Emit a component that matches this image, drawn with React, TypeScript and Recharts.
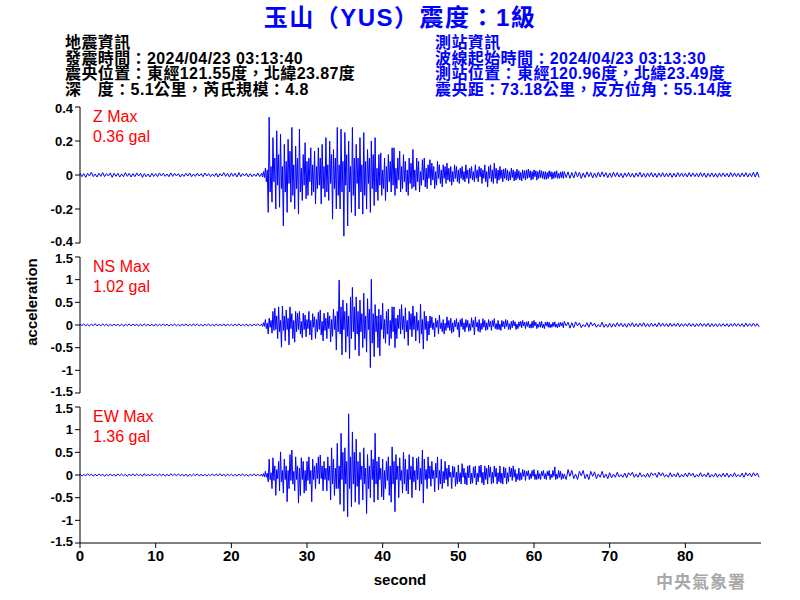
import React from 'react'
import { LineChart, Line, XAxis, YAxis } from 'recharts'

// 取樣：震前與尾段每 0.25 秒，主震段（24–64 秒）每 0.125 秒
const PRE_STEP = 0.25
const ACTIVE_START = 24
const ACTIVE_STEP = 0.125
const TAIL_START = 64
const TAIL_STEP = 0.25

const X_TICKS = [0, 10, 20, 30, 40, 50, 60, 70, 80]
const Z_TICKS = [-0.4, -0.2, 0, 0.2, 0.4]
const H_TICKS = [-1.5, -1, -0.5, 0, 0.5, 1, 1.5]

const TITLE = '玉山（YUS）震度：1級'
const QUAKE_INFO = [
  '地震資訊',
  '發震時間：2024/04/23 03:13:40',
  '震央位置：東經121.55度，北緯23.87度',
  '深　度：5.1公里，芮氏規模：4.8'
]
const STATION_INFO = [
  '測站資訊',
  '波線起始時間：2024/04/23 03:13:30',
  '測站位置：東經120.96度，北緯23.49度',
  '震央距：73.18公里，反方位角：55.14度'
]

// ---- Z ----
const Z_PRE = [
  0.012,-0.01,0.008,-0.014,0.01,-0.006,0.016,-0.01,0.006,-0.012,0.01,-0.008,0.014,-0.01,0.008,-0.006,0.012,-0.014,0.01,-0.008,
  0.01,-0.012,0.006,-0.01,0.014,-0.008,0.01,-0.012,0.008,-0.01,0.012,-0.006,0.01,-0.014,0.008,-0.01,0.006,-0.012,0.01,-0.008,
  0.008,-0.01,0.012,-0.006,0.01,-0.008,0.006,-0.01,0.012,-0.008,0.01,-0.006,0.008,-0.012,0.006,-0.008,0.01,-0.006,0.012,-0.01,
  0.006,-0.008,0.01,-0.006,0.008,-0.01,0.012,-0.006,0.008,-0.01,0.006,-0.008,0.01,-0.012,0.008,-0.006,0.014,-0.008,0.01,-0.012,
  0.012,-0.008,0.01,-0.012,0.014,-0.01,0.008,-0.006,0.01,-0.012,0.008,-0.01,0.006,-0.008,0.012,-0.01
]
const Z_ACTIVE = [
  0.01,-0.012,0.02,-0.015,0.04,-0.04,0.03,-0.22,0.34,-0.1,0.05,-0.16,0.22,-0.04,0.1,-0.2,0.26,-0.06,0.12,-0.19,
  0.24,-0.08,0.05,-0.3,0.18,-0.1,0.08,-0.22,0.21,-0.05,0.14,-0.16,0.28,-0.12,0.06,-0.2,0.17,-0.08,0.1,-0.23,
  0.27,-0.1,0.04,-0.15,0.12,-0.06,0.19,-0.14,0.08,-0.12,0.1,-0.04,0.16,-0.12,0.06,-0.1,0.14,-0.17,0.05,-0.08,
  0.16,-0.06,0.1,-0.17,0.18,-0.08,0.05,-0.13,0.22,-0.1,0.06,-0.15,0.2,-0.05,0.12,-0.26,0.15,-0.08,0.1,-0.2,
  0.28,-0.12,0.06,-0.2,0.27,-0.1,0.08,-0.36,0.25,-0.06,0.12,-0.3,0.2,-0.1,0.05,-0.22,0.28,-0.12,0.1,-0.24,
  0.18,-0.05,0.1,-0.2,0.22,-0.1,0.06,-0.23,0.25,-0.12,0.08,-0.2,0.15,-0.05,0.1,-0.22,0.2,-0.08,0.12,-0.18,
  0.22,-0.1,0.04,-0.15,0.12,-0.06,0.13,-0.12,0.03,-0.08,0.1,-0.15,0.05,-0.1,0.12,-0.04,0.08,-0.1,0.16,-0.06,
  0.16,-0.12,0.04,-0.08,0.1,-0.03,0.14,-0.1,0.05,-0.08,0.12,-0.04,0.08,-0.1,0.03,-0.12,0.1,-0.05,0.07,-0.08,
  0.15,-0.07,0.03,-0.09,0.1,-0.04,0.08,-0.1,0.02,-0.06,0.09,-0.03,0.1,-0.07,0.04,-0.08,0.06,-0.02,0.09,-0.06,
  0.07,-0.03,0.05,-0.08,0.02,-0.06,0.08,-0.02,0.06,-0.05,0.03,-0.07,0.06,-0.02,0.05,-0.05,0.07,-0.03,0.04,-0.04,
  0.05,-0.06,0.02,-0.04,0.06,-0.02,0.05,-0.04,0.03,-0.05,0.04,-0.02,0.05,-0.03,0.02,-0.04,0.06,-0.02,0.03,-0.05,
  0.04,-0.02,0.05,-0.03,0.02,-0.04,0.06,-0.02,0.03,-0.04,0.05,-0.01,0.04,-0.05,0.03,-0.02,0.06,-0.04,0.02,-0.07,
  0.05,-0.02,0.06,-0.04,0.03,-0.05,0.07,-0.02,0.04,-0.05,0.03,-0.03,0.05,-0.02,0.03,-0.04,0.035,-0.02,0.04,-0.03,
  0.03,-0.035,0.02,-0.03,0.04,-0.015,0.03,-0.035,0.02,-0.03,0.035,-0.02,0.025,-0.03,0.015,-0.035,0.03,-0.02,0.025,-0.03,
  0.03,-0.02,0.035,-0.015,0.025,-0.03,0.02,-0.025,0.03,-0.01,0.025,-0.03,0.02,-0.02,0.03,-0.015,0.025,-0.02,0.02,-0.025,
  0.02,-0.025,0.015,-0.02,0.025,-0.01,0.02,-0.025,0.015,-0.02,0.02,-0.015,0.025,-0.02,0.01,-0.02,0.018,-0.015,0.02,-0.02
]
const Z_TAIL = [
  0.02,-0.015,0.018,-0.02,
  0.015,-0.018,0.02,-0.012,0.016,-0.02,0.012,-0.015,0.018,-0.01,0.015,-0.018,0.012,-0.014,0.016,-0.012,0.018,-0.01,0.014,-0.016,
  0.012,-0.014,0.016,-0.01,0.014,-0.012,0.01,-0.016,0.012,-0.01,0.014,-0.012,0.01,-0.014,0.012,-0.01,0.016,-0.012,0.01,-0.014,
  0.012,-0.01,0.014,-0.012,0.01,-0.014,0.012,-0.01,0.014,-0.012,0.01,-0.01,0.012,-0.014,0.01,-0.012,0.014,-0.01,0.012,-0.01,
  0.01,-0.012,0.014,-0.01,0.012,-0.01,0.01,-0.012,0.014,-0.01,0.012,-0.014,0.01,-0.01,0.012,-0.012,0.01,-0.014,0.012,-0.01,
  0.012,-0.01,0.01,-0.012,0.014,-0.01,0.012,-0.01,0.01,-0.012,0.012,-0.01,0.014,-0.012,0.01,-0.01,0.016,-0.012,0.018,-0.014
]

// ---- NS ----
const NS_PRE = [
  0.02,-0.015,0.025,-0.02,0.015,-0.025,0.02,-0.015,0.03,-0.02,0.015,-0.02,0.025,-0.015,0.02,-0.025,0.015,-0.02,0.02,-0.015,
  0.015,-0.02,0.02,-0.025,0.015,-0.015,0.025,-0.02,0.02,-0.015,0.015,-0.025,0.02,-0.02,0.025,-0.015,0.015,-0.02,0.02,-0.025,
  0.02,-0.02,0.015,-0.015,0.025,-0.02,0.02,-0.025,0.015,-0.015,0.02,-0.02,0.015,-0.025,0.02,-0.015,0.025,-0.02,0.015,-0.02,
  0.025,-0.015,0.02,-0.02,0.015,-0.025,0.02,-0.015,0.025,-0.02,0.015,-0.02,0.02,-0.015,0.015,-0.02,0.025,-0.025,0.02,-0.015,
  0.015,-0.02,0.02,-0.015,0.025,-0.02,0.015,-0.015,0.02,-0.025,0.015,-0.02,0.02,-0.015,0.025,-0.02
]
const NS_ACTIVE = [
  0.02,-0.03,0.05,-0.03,0.12,-0.08,0.04,-0.2,0.15,-0.05,0.1,-0.18,0.3,-0.12,0.37,-0.1,0.2,-0.3,0.4,-0.15,
  0.1,-0.49,0.42,-0.12,0.2,-0.35,0.33,-0.1,0.15,-0.44,0.4,-0.08,0.25,-0.3,0.1,-0.38,0.3,-0.15,0.26,-0.1,
  0.3,-0.2,0.08,-0.28,0.26,-0.1,0.22,-0.26,0.12,-0.08,0.3,-0.22,0.1,-0.33,0.25,-0.05,0.18,-0.3,0.12,-0.15,
  0.28,-0.1,0.33,-0.22,0.08,-0.35,0.26,-0.12,0.15,-0.3,0.28,-0.08,0.2,-0.37,0.12,-0.25,0.35,-0.1,0.2,-0.55,
  0.3,-0.15,0.99,-0.2,0.4,-0.66,0.55,-0.1,0.3,-0.6,0.48,-0.25,0.2,-0.74,0.62,-0.3,0.83,-0.15,0.4,-0.55,
  0.62,-0.2,0.3,-0.68,0.55,-0.15,0.25,-0.5,0.7,-0.3,0.2,-0.6,0.58,-0.1,0.35,-0.94,1.01,-0.4,0.25,-0.7,
  0.45,-0.15,0.2,-0.5,0.35,-0.68,0.22,-0.1,0.48,-0.3,0.12,-0.4,0.3,-0.2,0.35,-0.45,0.1,-0.3,0.4,-0.15,
  0.4,-0.5,0.15,-0.3,0.22,-0.08,0.35,-0.2,0.45,-0.1,0.2,-0.3,0.38,-0.15,0.1,-0.45,0.3,-0.1,0.25,-0.26,
  0.42,-0.1,0.2,-0.35,0.28,-0.12,0.1,-0.4,0.46,-0.2,0.12,-0.53,0.3,-0.1,0.2,-0.35,0.08,-0.22,0.2,-0.06,
  0.18,-0.1,0.05,-0.26,0.15,-0.05,0.1,-0.2,0.22,-0.08,0.05,-0.15,0.12,-0.2,0.04,-0.12,0.18,-0.06,0.1,-0.12,
  0.15,-0.18,0.05,-0.15,0.1,-0.04,0.14,-0.1,0.06,-0.27,0.12,-0.04,0.15,-0.1,0.05,-0.15,0.12,-0.05,0.1,-0.14,
  0.03,-0.12,0.16,-0.05,0.1,-0.22,0.18,-0.04,0.06,-0.14,0.12,-0.16,0.04,-0.1,0.14,-0.05,0.1,-0.12,0.05,-0.1,
  0.12,-0.04,0.08,-0.12,0.1,-0.03,0.14,-0.08,0.03,-0.1,0.1,-0.1,0.02,-0.12,0.1,-0.04,0.08,-0.08,0.12,-0.03,
  0.1,-0.1,0.03,-0.1,0.08,-0.06,0.1,-0.02,0.07,-0.1,0.02,-0.08,0.07,-0.03,0.08,-0.06,0.1,-0.02,0.06,-0.08,
  0.07,-0.03,0.08,-0.06,0.02,-0.07,0.08,-0.06,0.1,-0.02,0.06,-0.08,0.02,-0.05,0.07,-0.05,0.08,-0.06,0.02,-0.08,
  0.06,-0.02,0.07,-0.05,0.06,-0.06,0.02,-0.05,0.06,-0.03,0.07,-0.05,0.02,-0.06,0.05,-0.04,0.06,-0.02,0.05,-0.06
]
const NS_TAIL = [
  0.08,-0.02,0.06,-0.07,
  0.05,-0.06,0.07,-0.02,0.05,-0.06,0.01,-0.04,0.05,-0.05,0.06,-0.02,0.04,-0.05,0.01,-0.04,0.06,-0.05,0.02,-0.05,
  0.04,-0.05,0.03,-0.04,0.05,-0.03,0.04,-0.04,0.03,-0.05,0.04,-0.03,0.05,-0.04,0.03,-0.04,0.04,-0.03,0.05,-0.04,
  0.03,-0.04,0.04,-0.03,0.03,-0.04,0.05,-0.03,0.04,-0.03,0.03,-0.04,0.04,-0.03,0.03,-0.03,0.04,-0.04,0.03,-0.03,
  0.03,-0.03,0.04,-0.03,0.03,-0.04,0.03,-0.03,0.04,-0.03,0.03,-0.03,0.04,-0.04,0.03,-0.03,0.03,-0.04,0.03,-0.03,
  0.03,-0.03,0.03,-0.04,0.03,-0.03,0.04,-0.03,0.03,-0.03,0.03,-0.04,0.04,-0.03,0.03,-0.03,0.04,-0.03,0.03,-0.04
]

// ---- EW ----
const EW_PRE = [
  0.02,-0.025,0.015,-0.02,0.03,-0.015,0.02,-0.025,0.015,-0.02,0.025,-0.015,0.02,-0.03,0.015,-0.02,0.025,-0.02,0.015,-0.025,
  0.025,-0.015,0.02,-0.02,0.015,-0.03,0.02,-0.015,0.025,-0.02,0.02,-0.015,0.015,-0.025,0.03,-0.02,0.015,-0.02,0.025,-0.015,
  0.015,-0.02,0.025,-0.015,0.02,-0.025,0.015,-0.02,0.03,-0.015,0.02,-0.02,0.025,-0.015,0.015,-0.025,0.02,-0.03,0.015,-0.02,
  0.02,-0.015,0.025,-0.02,0.015,-0.02,0.02,-0.025,0.015,-0.015,0.025,-0.02,0.02,-0.015,0.03,-0.02,0.015,-0.025,0.02,-0.015,
  0.02,-0.02,0.015,-0.025,0.02,-0.015,0.025,-0.02,0.015,-0.03,0.02,-0.015,0.025,-0.02,0.02,-0.025
]
const EW_ACTIVE = [
  0.02,-0.03,0.03,-0.04,0.08,-0.05,0.04,-0.15,0.35,-0.1,0.05,-0.3,0.38,-0.12,0.2,-0.45,0.12,-0.08,0.3,-0.35,
  0.51,-0.15,0.1,-0.4,0.35,-0.1,0.2,-0.59,0.1,-0.3,0.45,-0.12,0.55,-0.2,0.08,-0.35,0.4,-0.1,0.2,-0.62,
  0.15,-0.45,0.38,-0.1,0.3,-0.4,0.1,-0.35,0.3,-0.12,0.4,-0.2,0.1,-0.59,0.35,-0.1,0.2,-0.3,0.26,-0.08,
  0.4,-0.2,0.44,-0.08,0.2,-0.35,0.3,-0.1,0.15,-0.35,0.4,-0.12,0.2,-0.55,0.6,-0.2,0.35,-0.45,0.15,-0.3,
  0.7,-0.3,0.2,-0.65,0.92,-0.1,0.5,-0.8,0.6,-0.2,0.3,-0.92,1.35,-0.3,0.4,-0.7,0.95,-0.2,0.5,-0.6,
  0.79,-0.25,0.3,-0.65,0.5,-0.1,0.2,-0.55,0.6,-0.2,0.15,-0.85,0.45,-0.3,0.2,-0.5,0.55,-0.1,0.35,-0.6,
  0.92,-0.2,0.3,-0.55,0.4,-0.1,0.15,-0.48,0.35,-0.55,0.1,-0.3,0.3,-0.12,0.4,-0.45,0.2,-0.6,0.62,-0.2,
  0.3,-0.81,0.45,-0.1,0.2,-0.5,0.38,-0.12,0.1,-0.4,0.5,-0.2,0.35,-0.35,0.12,-0.42,0.45,-0.1,0.2,-0.5,
  0.4,-0.15,0.1,-0.33,0.37,-0.1,0.4,-0.35,0.15,-0.2,0.55,-0.62,0.35,-0.1,0.12,-0.3,0.4,-0.08,0.2,-0.25,
  0.3,-0.08,0.1,-0.37,0.26,-0.06,0.4,-0.33,0.1,-0.2,0.35,-0.3,0.08,-0.18,0.3,-0.1,0.15,-0.25,0.22,-0.05,
  0.06,-0.3,0.2,-0.05,0.18,-0.25,0.06,-0.2,0.22,-0.15,0.05,-0.2,0.25,-0.05,0.15,-0.2,0.05,-0.22,0.2,-0.06,
  0.22,-0.2,0.04,-0.18,0.18,-0.06,0.2,-0.22,0.04,-0.15,0.2,-0.05,0.22,-0.18,0.06,-0.22,0.2,-0.1,0.15,-0.2,
  0.22,-0.05,0.18,-0.2,0.06,-0.18,0.2,-0.04,0.15,-0.2,0.05,-0.15,0.2,-0.18,0.04,-0.2,0.18,-0.06,0.15,-0.2,
  0.05,-0.15,0.18,-0.04,0.15,-0.12,0.2,-0.05,0.12,-0.15,0.03,-0.1,0.15,-0.12,0.05,-0.1,0.12,-0.03,0.1,-0.12,
  0.08,-0.02,0.1,-0.1,0.03,-0.08,0.1,-0.03,0.12,-0.1,0.02,-0.1,0.1,-0.08,0.03,-0.1,0.08,-0.02,0.1,-0.08,
  0.03,-0.1,0.08,-0.02,0.1,-0.1,0.02,-0.06,0.1,-0.03,0.18,-0.1,0.02,-0.08,0.1,-0.05,0.08,-0.1,0.03,-0.08
]
const EW_TAIL = [
  0.02,-0.1,0.12,-0.03,
  0.1,-0.08,0.02,-0.1,0.08,-0.02,0.1,-0.08,0.02,-0.1,0.08,-0.03,0.07,-0.08,0.02,-0.05,0.08,-0.06,0.02,-0.08,
  0.05,-0.06,0.02,-0.05,0.06,-0.04,0.01,-0.05,0.04,-0.06,0.05,-0.01,0.06,-0.05,0.02,-0.05,0.05,-0.04,0.01,-0.05,
  0.04,-0.05,0.05,-0.01,0.04,-0.05,0.06,-0.02,0.05,-0.04,0.01,-0.05,0.05,-0.04,0.02,-0.04,0.05,-0.05,0.01,-0.04,
  0.04,-0.04,0.05,-0.02,0.04,-0.05,0.01,-0.04,0.05,-0.04,0.02,-0.04,0.05,-0.05,0.01,-0.04,0.04,-0.05,0.02,-0.04,
  0.04,-0.04,0.04,-0.05,0.02,-0.04,0.05,-0.04,0.01,-0.04,0.04,-0.05,0.05,-0.02,0.04,-0.04,0.05,-0.02,0.04,-0.05
]

function buildSeries(pre: number[], active: number[], tail: number[]) {
  return [
    ...pre.map((v, i) => ({ t: i * PRE_STEP, v })),
    ...active.map((v, i) => ({ t: ACTIVE_START + i * ACTIVE_STEP, v })),
    ...tail.map((v, i) => ({ t: TAIL_START + i * TAIL_STEP, v }))
  ]
}

const PANELS = [
  { key: 'z', label: 'Z Max', peak: '0.36 gal', data: buildSeries(Z_PRE, Z_ACTIVE, Z_TAIL), domain: [-0.4, 0.4], ticks: Z_TICKS, top: 107 },
  { key: 'ns', label: 'NS Max', peak: '1.02 gal', data: buildSeries(NS_PRE, NS_ACTIVE, NS_TAIL), domain: [-1.5, 1.5], ticks: H_TICKS, top: 257 },
  { key: 'ew', label: 'EW Max', peak: '1.36 gal', data: buildSeries(EW_PRE, EW_ACTIVE, EW_TAIL), domain: [-1.5, 1.5], ticks: H_TICKS, top: 407 }
]

const LATIN = '"Liberation Sans", Arial, "Noto Sans CJK TC", sans-serif'
const PLOT_H = 136

function makeYTick(min: number, max: number) {
  return (props: any) => {
    const { x, y, payload } = props
    const v = payload.value
    // 上下兩端的刻度文字略往內收，避免與相鄰面板重疊
    const nudge = v === max ? 1 : v === min ? -1.5 : 0
    return (
      <text x={x} y={y + nudge} dy="0.36em" textAnchor="end" fill="#000" fontSize={13} fontWeight="bold" fontFamily={LATIN}>
        {v}
      </text>
    )
  }
}

function Panel({ p, showX }: { p: typeof PANELS[number]; showX: boolean }) {
  const xH = 30
  const h = 10 + PLOT_H + (showX ? xH + 5 : 10)
  return (
    <div style={{ position: 'absolute', left: 0, top: p.top - 10 }}>
      <LineChart width={800} height={h} data={p.data} margin={{ top: 10, right: 39, left: 0, bottom: showX ? 5 : 10 }}>
        <XAxis
          dataKey="t"
          type="number"
          domain={[0, 90]}
          ticks={X_TICKS}
          hide={!showX}
          height={xH}
          stroke="#000"
          tickSize={5}
          tick={{ fill: '#000', fontSize: 15, fontWeight: 'bold', fontFamily: LATIN }}
        />
        <YAxis
          type="number"
          domain={p.domain}
          ticks={p.ticks}
          width={80}
          stroke="#000"
          tickSize={5}
          tick={makeYTick(p.domain[0], p.domain[1])}
          interval={0}
        />
        <Line type="linear" dataKey="v" stroke="#0000FF" strokeWidth={1} dot={false} isAnimationActive={false} />
      </LineChart>
    </div>
  )
}

export default function App() {
  return (
    <div style={{ position: 'absolute', left: 0, top: 0, width: 800, height: 600, background: '#fff', fontFamily: LATIN, overflow: 'hidden' }}>
      <div style={{ position: 'absolute', left: 0, width: 800, top: 4, textAlign: 'center', color: '#0000FF', fontSize: 24, letterSpacing: 1.5, fontWeight: 'bold', lineHeight: '28px' }}>
        {TITLE}
      </div>
      <div style={{ position: 'absolute', left: 65, top: 35, color: '#000', fontSize: 16, letterSpacing: 0.4, fontWeight: 'bold', lineHeight: '15.7px', whiteSpace: 'pre' }}>
        {QUAKE_INFO.map(s => <div key={s}>{s}</div>)}
      </div>
      <div style={{ position: 'absolute', left: 435, top: 35, color: '#0000FF', fontSize: 16, letterSpacing: 0.4, fontWeight: 'bold', lineHeight: '15.7px', whiteSpace: 'pre' }}>
        {STATION_INFO.map(s => <div key={s}>{s}</div>)}
      </div>

      {PANELS.map((p, i) => (
        <Panel key={p.key} p={p} showX={i === PANELS.length - 1} />
      ))}

      {PANELS.map(p => (
        <div key={p.key + '-lbl'} style={{ position: 'absolute', left: 93, top: p.top, color: '#FF0000', fontSize: 16, lineHeight: '20px' }}>
          <div>{p.label}</div>
          <div>{p.peak}</div>
        </div>
      ))}

      <div style={{ position: 'absolute', left: 32 - 60, top: 302 - 10, width: 120, height: 20, lineHeight: '20px', textAlign: 'center', transform: 'rotate(-90deg)', fontSize: 15, fontWeight: 'bold', color: '#000' }}>
        acceleration
      </div>
      <div style={{ position: 'absolute', left: 340, top: 570, width: 120, textAlign: 'center', fontSize: 15, fontWeight: 'bold', lineHeight: '20px', color: '#000' }}>
        second
      </div>
      <div style={{ position: 'absolute', left: 656, top: 571, fontSize: 17, letterSpacing: 1, fontWeight: 'bold', color: '#A8A8A8', lineHeight: '20px', fontFamily: '"Noto Sans CJK TC", sans-serif' }}>
        中央氣象署
      </div>
    </div>
  )
}
